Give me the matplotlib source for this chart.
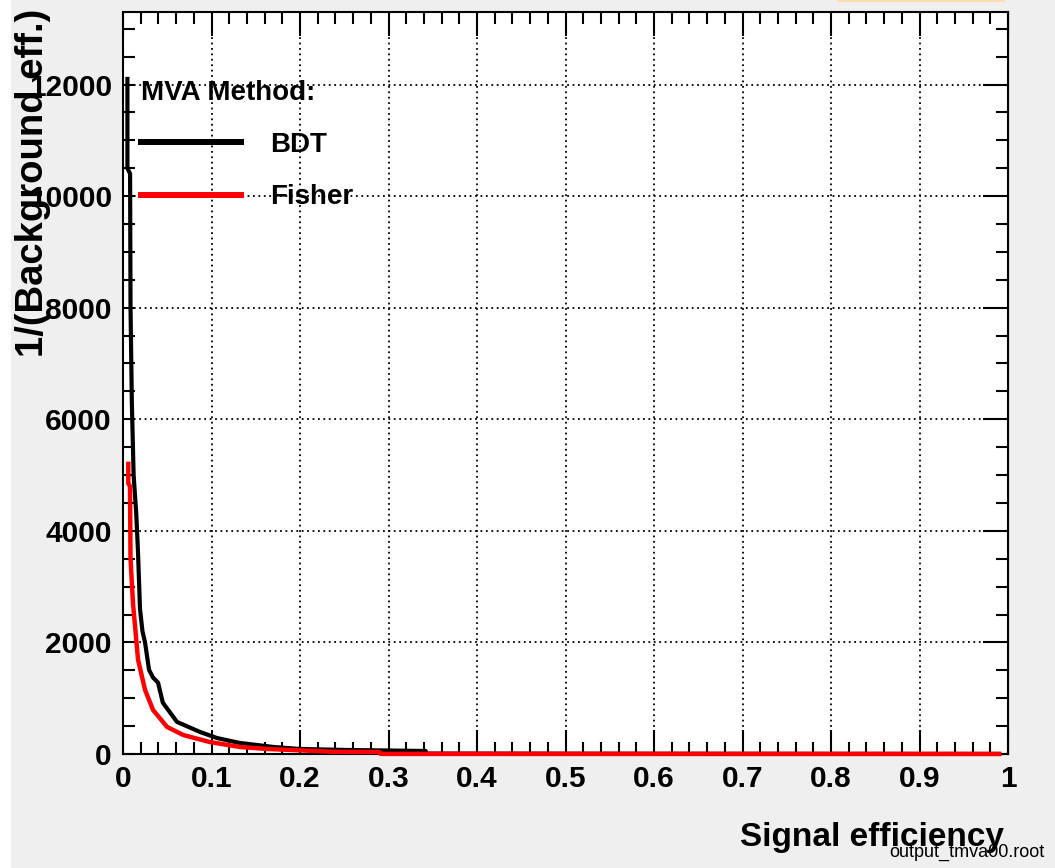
import matplotlib.pyplot as plt
from matplotlib.lines import Line2D
from matplotlib.patches import Rectangle
from matplotlib.ticker import MultipleLocator

# background rejection (1/eff_B) versus signal efficiency for each MVA method
methods = ['BDT', 'Fisher']
colors = ['black', 'red']

bdt_eff = [0.0050, 0.0050, 0.0080, 0.0085, 0.0100, 0.0120, 0.0150, 0.0170,
           0.0192, 0.0220, 0.0249, 0.0294, 0.0339, 0.0396, 0.0450, 0.0610,
           0.0870, 0.1060, 0.1320, 0.1700, 0.2000, 0.2530, 0.3420, 0.3430,
           0.6000, 0.9900]
bdt_rej = [12100, 10500, 10400, 8000, 6300, 5000, 4300, 3600,
           2600, 2200, 2000, 1510, 1370, 1280, 920, 575,
           395, 287, 198, 126, 90, 72, 54, 8,
           5, 2]

fisher_eff = [0.0060, 0.0060, 0.0079, 0.0085, 0.0113, 0.0170, 0.0249, 0.0339,
              0.0498, 0.0680, 0.0980, 0.1320, 0.1630, 0.2380, 0.2900, 0.2910,
              0.9900]
fisher_rej = [5200, 4850, 4800, 3500, 2700, 1690, 1150, 790,
              485, 341, 215, 126, 90, 40, 35, 2,
              0]

plt.rcParams['font.family'] = ['Liberation Sans', 'DejaVu Sans']
plt.rcParams['font.weight'] = 'bold'
plt.rcParams['axes.labelweight'] = 'bold'

fig = plt.figure(figsize=(10.55, 8.68), dpi=100, facecolor='#efefef')
fig.add_artist(Rectangle((0, 0), 11 / 1055, 1, transform=fig.transFigure,
                         facecolor='white', edgecolor='none', zorder=0))
fig.add_artist(Rectangle((837 / 1055, 1 - 2 / 868), 168 / 1055, 2 / 868,
                         transform=fig.transFigure, facecolor='#fbdcae',
                         edgecolor='none'))

ax = fig.add_axes([123 / 1055, 1 - 754 / 868, 885 / 1055, 742 / 868])
ax.set_facecolor('white')

ax.plot(bdt_eff, bdt_rej, color=colors[0], lw=3.0, clip_on=False, zorder=3)
ax.plot(fisher_eff, fisher_rej, color=colors[1], lw=3.2, clip_on=False, zorder=4)

ax.set_xlim(0, 1)
ax.set_ylim(0, 13300)

ax.xaxis.set_major_locator(MultipleLocator(0.1))
ax.xaxis.set_minor_locator(MultipleLocator(0.02))
ax.yaxis.set_major_locator(MultipleLocator(2000))
ax.yaxis.set_minor_locator(MultipleLocator(500))
ax.xaxis.set_major_formatter(lambda v, p: '%g' % round(v, 2))

ax.grid(True, which='major', color='black', linestyle=(0, (1, 2)), lw=1.3)

ax.tick_params(axis='both', which='both', direction='in', width=1.5,
               labelsize=21.5, top=True, right=False)
ax.tick_params(axis='x', which='major', length=17, pad=8)
ax.tick_params(axis='x', which='minor', length=8.5)
ax.tick_params(axis='y', which='both', length=8.5, pad=8)

# right-hand ticks are longer for the major divisions
sec = ax.secondary_yaxis('right')
sec.yaxis.set_major_locator(MultipleLocator(2000))
sec.yaxis.set_minor_locator(MultipleLocator(500))
sec.tick_params(which='both', direction='in', width=1.5, labelright=False)
sec.tick_params(which='major', length=18)
sec.tick_params(which='minor', length=8.5)

for sp in ax.spines.values():
    sp.set_linewidth(1.5)

ax.set_xlabel('Signal efficiency', fontsize=24, loc='right')
ax.xaxis.set_label_coords(0.9955, -0.092)
ax.set_ylabel('1/(Background eff.)', fontsize=27.5, loc='top')
ax.yaxis.set_label_coords(-0.081, 1.005)

handles = [Line2D([], [], color=c, lw=4.3) for c in colors]
ax.legend(handles, methods, title='MVA Method:', loc='upper left',
          bbox_to_anchor=(0.020, 0.909), frameon=False, alignment='left',
          fontsize=20, title_fontproperties={'size': 20, 'weight': 'bold'},
          handlelength=3.6, handletextpad=1.05, labelspacing=0.95,
          borderpad=0, borderaxespad=0)

fig.text(1045 / 1055, 1 - 857 / 868, 'output_tmva00.root', fontsize=13,
         fontweight='normal', ha='right', va='baseline')

fig.savefig('out.png', dpi=100, facecolor=fig.get_facecolor())
